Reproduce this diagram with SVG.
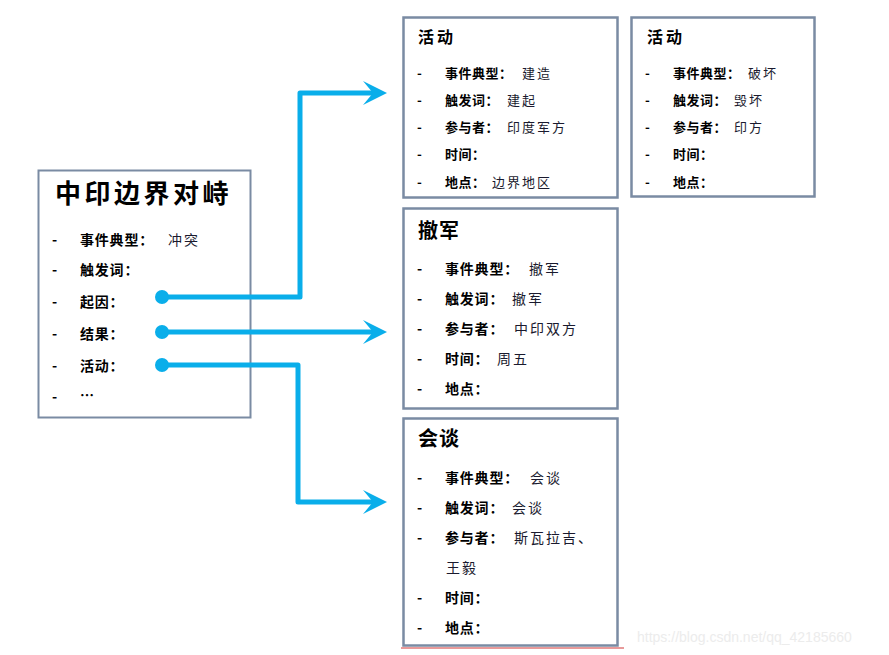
<svg xmlns="http://www.w3.org/2000/svg" width="889" height="655" viewBox="0 0 889 655">
<defs>
<style>
.box{fill:#fff;stroke:#7a8ba3;stroke-width:2.5}
.box1{fill:#fff;stroke:#7a8ba3;stroke-width:2}
.t{font-family:"Noto Sans CJK SC","Noto Sans",sans-serif;fill:#000;font-weight:700}
.lb{font-family:"Noto Sans CJK SC","Noto Sans",sans-serif;fill:#000;font-weight:700}
.v{font-family:"Noto Sans CJK SC","Noto Sans",sans-serif;fill:#1a1a2e;font-weight:400}
.s13{font-size:13px;letter-spacing:0.5px}
.s14{font-size:14px;letter-spacing:0.8px}
.vs13{font-size:13px;letter-spacing:2px}
.vs14{font-size:14px;letter-spacing:2px}
.con{fill:none;stroke:#0aaeea;stroke-width:5;stroke-linejoin:round}
.dot{fill:#0aaeea}
</style>
<marker id="arr" markerUnits="userSpaceOnUse" markerWidth="26" markerHeight="26" refX="13" refY="12" orient="auto" viewBox="0 0 26 24">
<path d="M0,0 L24,12 L0,24 L10,12 Z" fill="#0aaeea"/>
</marker>
</defs>
<rect width="889" height="655" fill="#fff"/>

<g id="main">
<rect class="box1" x="38.5" y="170.5" width="212" height="247"/>
<text class="t" x="55" y="203" font-size="26" letter-spacing="3.5">中印边界对峙</text>
<g class="lb s14">
<text x="52" y="245">-</text><text x="80" y="245">事件典型：</text>
<text x="52" y="275">-</text><text x="80" y="275">触发词：</text>
<text x="52" y="307">-</text><text x="80" y="307">起因：</text>
<text x="52" y="339">-</text><text x="80" y="339">结果：</text>
<text x="52" y="371">-</text><text x="80" y="371">活动：</text>
<text x="52" y="402">-</text><text x="80" y="400">…</text>
</g>
<text class="v vs14" x="168" y="245">冲突</text>
</g>

<g id="act1">
<rect class="box" x="403.5" y="17.5" width="214" height="180"/>
<text class="t" x="418" y="43" font-size="16" letter-spacing="3">活动</text>
<g class="lb s13">
<text x="417" y="78">-</text><text x="445" y="78">事件典型：</text>
<text x="417" y="105">-</text><text x="445" y="105">触发词：</text>
<text x="417" y="132">-</text><text x="445" y="132">参与者：</text>
<text x="417" y="159">-</text><text x="445" y="159">时间：</text>
<text x="417" y="187">-</text><text x="445" y="187">地点：</text>
</g>
<g class="v vs13">
<text x="522" y="78">建造</text>
<text x="507" y="105">建起</text>
<text x="507" y="132">印度军方</text>
<text x="492" y="187">边界地区</text>
</g>
</g>

<g id="act2">
<rect class="box" x="631.5" y="17.5" width="183" height="179"/>
<text class="t" x="647" y="43" font-size="16" letter-spacing="3">活动</text>
<g class="lb s13">
<text x="645" y="78">-</text><text x="673" y="78">事件典型：</text>
<text x="645" y="105">-</text><text x="673" y="105">触发词：</text>
<text x="645" y="132">-</text><text x="673" y="132">参与者：</text>
<text x="645" y="159">-</text><text x="673" y="159">时间：</text>
<text x="645" y="187">-</text><text x="673" y="187">地点：</text>
</g>
<g class="v vs13">
<text x="748" y="78">破坏</text>
<text x="734" y="105">毁坏</text>
<text x="734" y="132">印方</text>
</g>
</g>

<g id="withdraw">
<rect class="box" x="403.5" y="208.5" width="214" height="200"/>
<text class="t" x="418" y="238" font-size="20" letter-spacing="1">撤军</text>
<g class="lb s14">
<text x="417" y="274">-</text><text x="445" y="274">事件典型：</text>
<text x="417" y="304">-</text><text x="445" y="304">触发词：</text>
<text x="417" y="334">-</text><text x="445" y="334">参与者：</text>
<text x="417" y="364">-</text><text x="445" y="364">时间：</text>
<text x="417" y="394">-</text><text x="445" y="394">地点：</text>
</g>
<g class="v vs14">
<text x="529" y="274">撤军</text>
<text x="512" y="304">撤军</text>
<text x="514" y="334">中印双方</text>
<text x="497" y="364">周五</text>
</g>
</g>

<g id="talks">
<rect class="box" x="403.5" y="418.5" width="214" height="227"/>
<text class="t" x="418" y="446" font-size="20" letter-spacing="1">会谈</text>
<g class="lb s14">
<text x="417" y="483">-</text><text x="445" y="483">事件典型：</text>
<text x="417" y="513">-</text><text x="445" y="513">触发词：</text>
<text x="417" y="543">-</text><text x="445" y="543">参与者：</text>
<text x="417" y="603">-</text><text x="445" y="603">时间：</text>
<text x="417" y="633">-</text><text x="445" y="633">地点：</text>
</g>
<g class="v vs14">
<text x="530" y="483">会谈</text>
<text x="512" y="513">会谈</text>
<text x="514" y="543">斯瓦拉吉、</text>
<text x="446" y="573">王毅</text>
</g>
<line x1="401" y1="648" x2="624" y2="648" stroke="#e07878" stroke-width="1.5"/>
</g>

<g id="connectors">
<path class="con" d="M162,297 H300 V93 H376" marker-end="url(#arr)"/>
<path class="con" d="M162,332 H376" marker-end="url(#arr)"/>
<path class="con" d="M162,365 H298 V502 H376" marker-end="url(#arr)"/>
<circle class="dot" cx="162" cy="297" r="7"/>
<circle class="dot" cx="162" cy="332" r="7"/>
<circle class="dot" cx="162" cy="365" r="7"/>
</g>

<text x="637" y="642" font-family="Liberation Sans, sans-serif" font-size="14" fill="#ececec">https://blog.csdn.net/qq_42185660</text>
</svg>
